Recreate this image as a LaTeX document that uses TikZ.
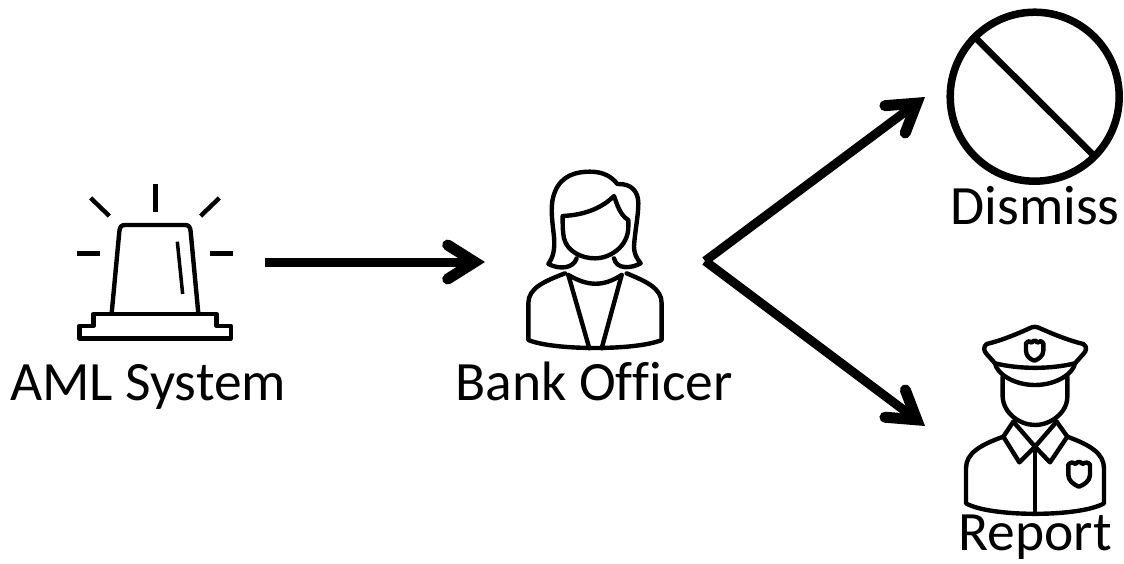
\documentclass[tikz,border=0pt]{standalone}
\usepackage{fontspec}
\setmainfont{Carlito}[Ligatures=NoCommon]
\usetikzlibrary{arrows.meta}
\tikzset{
  x=1pt,y=-1pt,
  icon/.style={line width=4.4pt,line join=round,line cap=round,black},
  flow/.style={line width=9pt,black,-{Straight Barb[length=27pt,width=34pt,line width=11pt,line cap=round,line join=miter]}},
  lbl/.style={inner sep=0pt,anchor=base,font=\fontsize{55.5}{66}\selectfont,text=black},
  zoomed/.style={x=0.3333pt,y=-0.3333pt}
}
\begin{document}
\begin{tikzpicture}
\useasboundingbox (0,0) rectangle (1124,563);
\fill[white] (0,0) rectangle (1124,563);
% siren
\begin{scope}[shift={(60pt,-170pt)},zoomed,icon,line cap=butt]
\draw (287,42)--(287,125);
\draw (92,84)--(148,138);
\draw (478,84)--(422,138);
\draw (50,250)--(120,250);
\draw (450,250)--(518,250);
\draw (155,430)--(178,185) .. controls (179,170) and (185,165) .. (195,165) -- (375,165) .. controls (385,165) and (391,170) .. (392,185) -- (415,430);
\draw[line width=3.5pt] (352,215)--(368,372);
\draw (58,505)--(58,468)--(100,468)--(100,432)--(470,432)--(470,468)--(513,468)--(513,505)--cycle;
\end{scope}
% officer
\begin{scope}[shift={(510pt,-160pt)},zoomed,icon]
\draw (200,295) .. controls (190,325) and (150,330) .. (115,312) .. controls (130,290) and (135,270) .. (132,230) .. controls (125,170) and (120,130) .. (135,95) .. controls (155,45) and (200,35) .. (240,35) .. controls (280,35) and (305,50) .. (322,72) .. controls (365,70) and (385,95) .. (385,130) .. controls (385,170) and (375,210) .. (372,260) .. controls (372,280) and (380,295) .. (392,310) .. controls (365,325) and (320,330) .. (312,295);
\draw (158,168) .. controls (158,200) and (158,215) .. (162,235) .. controls (172,275) and (215,295) .. (255,295) .. controls (300,295) and (355,260) .. (355,200) -- (355,180) .. controls (330,165) and (322,135) .. (312,108) .. controls (280,140) and (230,165) .. (158,168) -- cycle;
\draw (165,340) .. controls (100,365) and (55,385) .. (55,430) -- (55,540) .. controls (130,572) and (380,572) .. (455,540) -- (455,430) .. controls (455,385) and (410,365) .. (350,340);
\draw (175,345) .. controls (235,380) and (280,380) .. (335,345);
\draw (175,345)--(238,565);
\draw (335,345)--(275,565);
\end{scope}
% police
\begin{scope}[shift={(950pt,-330pt)},zoomed,icon]
\draw (110,42) .. controls (160,30) and (210,8) .. (245,-8) .. controls (250,-10) and (258,-10) .. (263,-8) .. controls (300,8) and (350,30) .. (400,42) .. controls (412,50) and (410,62) .. (400,72) -- (375,100) .. controls (300,118) and (210,118) .. (135,100) -- (110,72) .. controls (100,62) and (100,50) .. (110,42) -- cycle;
\draw (135,100) .. controls (140,130) and (190,165) .. (255,165) .. controls (320,165) and (370,130) .. (375,100);
\draw (158,140) -- (158,200) .. controls (160,250) and (210,285) .. (255,285) .. controls (300,285) and (352,250) .. (352,200) -- (352,140);
\draw (190,275)--(160,320)--(208,397)--(255,350)--(300,397)--(352,320)--(320,275);
\draw (190,275)--(255,350)--(320,275);
\draw (255,350)--(255,550);
\draw (160,320) .. controls (90,345) and (48,370) .. (48,415) -- (48,520) .. controls (120,562) and (390,562) .. (462,520) -- (462,415) .. controls (462,370) and (420,345) .. (352,320);
\draw (228,40) .. controls (235,32) and (240,32) .. (245,38) .. controls (250,30) and (258,30) .. (262,38) .. controls (268,32) and (275,32) .. (280,40) -- (280,62) .. controls (280,78) and (265,88) .. (253,92) .. controls (240,88) and (228,78) .. (228,62) -- cycle;
\draw (355,404) .. controls (362,396) and (368,396) .. (376,402) .. controls (382,394) and (392,394) .. (398,402) .. controls (406,396) and (414,396) .. (420,404) -- (420,435) .. controls (420,452) and (402,465) .. (387,470) .. controls (372,465) and (355,452) .. (355,435) -- cycle;
\end{scope}
% dismiss
\draw[icon,line width=7.5pt] (1034.7,96.7) circle[radius=84.5];
\draw[icon,line cap=butt,line width=6.5pt] (975,37.3)--(1093.3,155);
% labels
\node[lbl] (aml) at (148,400) {AML System};
\node[lbl] (bank) at (594,400) {Bank Officer};
\node[lbl] (dismiss) at (1035,224) {Dismiss};
\node[lbl] (report) at (1035,550) {Report};
% connectors
\coordinate (sirenR) at (265,262);
\coordinate (officerL) at (485,262);
\coordinate (fork) at (705,261);
\coordinate (noL) at (925,97);
\coordinate (copL) at (925,426);
\draw[flow] (sirenR)--(officerL);
\draw[flow] (fork)--(noL);
\draw[flow] (fork)--(copL);
\end{tikzpicture}
\end{document}
